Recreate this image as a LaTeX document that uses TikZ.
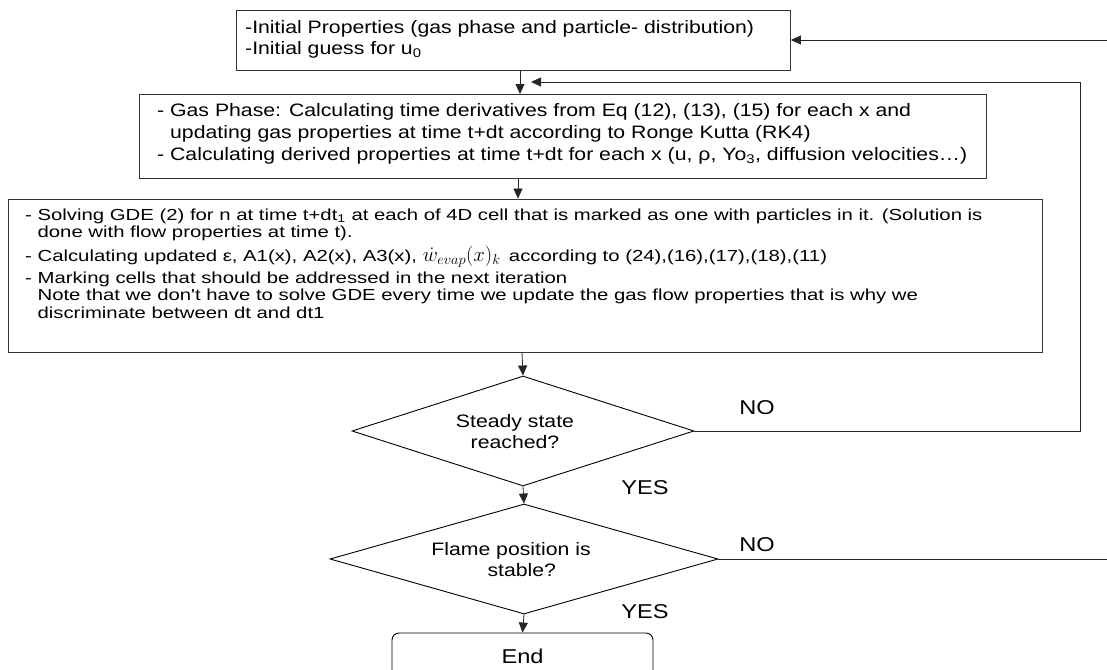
\documentclass[tikz,border=0pt]{standalone}
\usepackage{fontspec}
\setmainfont{Liberation Sans}[FakeStretch=1.18]
\newfontfamily\widesans{Liberation Sans}[FakeStretch=1.27]
\usetikzlibrary{shapes.geometric,arrows.meta}
\tikzset{
  boxshape/.style={draw=black!80, line width=0.9pt, anchor=north west, inner sep=0pt},
  txt/.style={anchor=north west, inner sep=0pt, align=left, font=\fontsize{18}{21}\selectfont},
  decision/.style={diamond, draw=black, line width=0.9pt, inner sep=0pt},
  dtxt/.style={inner sep=0pt, align=center, font=\fontsize{18}{21}\selectfont},
  lbl/.style={inner sep=0pt, font=\fontsize{20}{24}\selectfont},
  conn/.style={draw=black!85, line width=0.8pt},
  arr/.style={conn, -{Triangle[length=10pt,width=9pt]}},
}
\begin{document}
\begin{tikzpicture}[x=1pt,y=-1pt]
\useasboundingbox (0,0) rectangle (1107,669);
\fill[white] (0,0) rectangle (1107,669);

% box 1
\node[boxshape, minimum width=554pt, minimum height=60pt] (b1) at (236,10) {};
\node[txt] (t1) at (245,20.5) {-Initial Properties (gas phase and particle- distribution)\\
-Initial guess for u\textsubscript{0}};

% box 2
\node[boxshape, minimum width=847pt, minimum height=84pt] (b2) at (139,94) {};
\node[txt, font=\fontsize{18}{22}\selectfont] (t2) at (157,103.5) {- Gas Phase: Calculating time derivatives from Eq (12), (13), (15) for each x and\\
\phantom{- }updating gas properties at time t+dt according to Ronge Kutta (RK4)\\
- Calculating derived properties at time t+dt for each x (u, ρ, Yo\textsubscript{3}, diffusion velocities…)};

% box 3
\node[boxshape, minimum width=1034pt, minimum height=153pt] (b3) at (8,198.5) {};
\node[txt, font=\widesans\fontsize{16}{17.5}\selectfont] (t3) at (25,208.5) {- Solving GDE (2) for n at time t+dt\textsubscript{1} at each of 4D cell that is marked as one with particles in it. (Solution is\\
\phantom{- }done with flow properties at time t).\\[3.5pt]
- Calculating updated ε, A1(x), A2(x), A3(x), {\fontsize{20}{17}\selectfont$\dot{w}_{evap}(x)_k$} \,according to (24),(16),(17),(18),(11)\\[3.5pt]
- Marking cells that should be addressed in the next iteration\\
\phantom{- }Note that we don't have to solve GDE every time we update the gas flow properties that is why we\\
\phantom{- }discriminate between dt and dt1};

% decisions
\node[decision, shape aspect=3.109, minimum width=342pt, minimum height=110pt] (d1) at (523,431) {};
\node[dtxt] (d1t) at (515,432) {Steady state\\reached?};
\node[decision, shape aspect=3.527, minimum width=388pt, minimum height=110pt] (d2) at (524,559) {};
\node[dtxt] (d2t) at (511,560) {Flame position is\\\hspace*{1.2em}stable?};

% end
\node[draw=black, line width=0.9pt, rounded corners=7pt, minimum width=261pt, minimum height=46pt,
  inner sep=0pt, font=\fontsize{20}{24}\selectfont] (e) at (522.5,656) {End};

% labels
\node[lbl] (no1) at (757,408) {NO};
\node[lbl] (yes1) at (645,488) {YES};
\node[lbl] (no2) at (757,545) {NO};
\node[lbl] (yes2) at (645,612) {YES};

% helper coordinates
\coordinate (in1) at (1107,40);
\coordinate (r1) at (1080,431);
\coordinate (r1top) at (1080,82);
\coordinate (r1end) at (531,82);
\coordinate (out2) at (1107,559);

% connectors
\draw[arr] (in1) -- (b1.east |- in1);
\draw[arr] (b1.south -| 520,0) -- (520,94);
\draw[arr] (b2.south -| 518,0) -- (518,198.5);
\draw[arr] (b3.south -| 522,0) -- (d1.north);
\draw[arr] (d1.south) -- (d2.north);
\draw[arr] (d2.south) -- (e.north);
\draw[conn] (d1.east) -- (r1) -- (r1top);
\draw[arr] (r1top) -- (r1end);
\draw[conn] (d2.east) -- (out2);
\end{tikzpicture}
\end{document}
